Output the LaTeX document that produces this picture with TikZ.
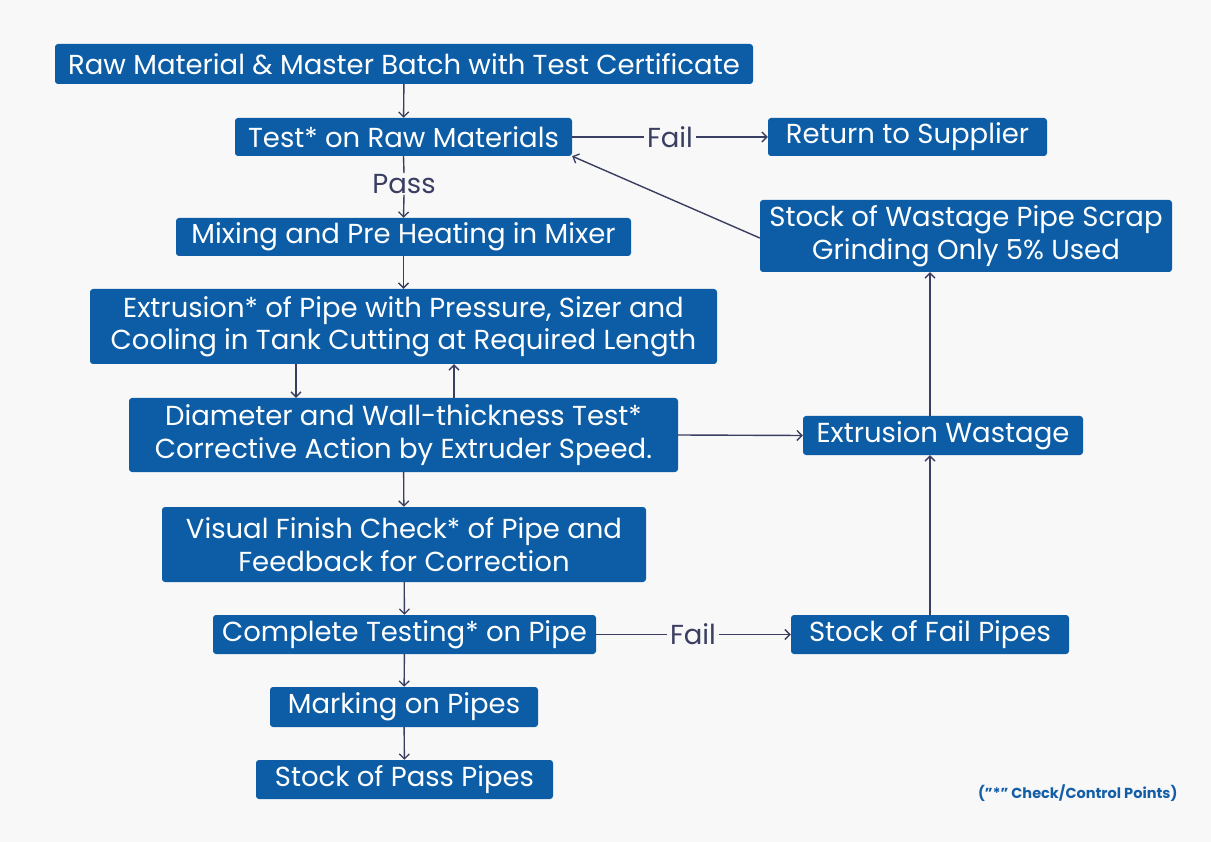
\documentclass[tikz,border=0pt]{standalone}
\usepackage{fontspec}
\setmainfont{Poppins}
\usetikzlibrary{arrows.meta,calc}
\definecolor{boxblue}{RGB}{12,93,166}
\definecolor{lineclr}{RGB}{58,62,96}
\definecolor{bgclr}{RGB}{248,248,248}
\definecolor{legclr}{RGB}{20,94,168}
\begin{document}
\begin{tikzpicture}[x=1pt,y=-1pt,
  box/.style={draw=none,fill=boxblue,rounded corners=3pt,text=white,align=center,
    inner sep=0pt,font=\fontsize{27.5}{32.5}\selectfont},
  lbl/.style={text=lineclr,inner sep=3pt,font=\fontsize{27.5}{30}\selectfont},
  arr/.style={draw=lineclr,line width=1.4pt,-{Straight Barb[length=5pt,width=10pt,line width=1.3pt]}},
  ln/.style={draw=lineclr,line width=1.4pt}]
\fill[bgclr] (0,0) rectangle (1211,842);
\useasboundingbox (0,0) rectangle (1211,842);
\node[box,minimum width=698pt,minimum height=40pt] (raw) at (404,64) {Raw Material \& Master Batch with Test Certificate};
\node[box,minimum width=337pt,minimum height=38pt] (test) at (403.5,137) {Test* on Raw Materials};
\node[box,minimum width=279pt,minimum height=38pt] (ret) at (907.5,137) {Return to Supplier};
\node[box,minimum width=455pt,minimum height=38pt] (mix) at (403.5,237) {Mixing and Pre Heating in Mixer};
\node[box,minimum width=412pt,minimum height=72pt] (sw) at (966,236) {Stock of Wastage Pipe Scrap\\Grinding Only 5\% Used};
\node[box,minimum width=627pt,minimum height=75pt] (ext) at (403.5,326.5) {Extrusion* of Pipe with Pressure, Sizer and\\Cooling in Tank Cutting at Required Length};
\node[box,minimum width=549pt,minimum height=74pt] (dia) at (403.5,435) {Diameter and Wall-thickness Test*\\Corrective Action by Extruder Speed.};
\node[box,minimum width=280pt,minimum height=39pt] (ew) at (943,435.5) {Extrusion Wastage};
\node[box,minimum width=484pt,minimum height=75pt] (vis) at (404,544.5) {Visual Finish Check* of Pipe and\\Feedback for Correction};
\node[box,minimum width=383pt,minimum height=39pt] (comp) at (404.5,634.5) {Complete Testing* on Pipe};
\node[box,minimum width=278pt,minimum height=39pt] (sf) at (930,634.5) {Stock of Fail Pipes};
\node[box,minimum width=268pt,minimum height=40pt] (mark) at (404,707) {Marking on Pipes};
\node[box,minimum width=297pt,minimum height=39pt] (sp) at (404.5,779.5) {Stock of Pass Pipes};
\node[lbl] (fail1) at (670,137) {Fail};
\node[lbl] (fail2) at (693,634.5) {Fail};
\node[lbl,inner sep=1pt] (pass) at (404,184) {Pass};
\node[text=legclr,font=\fontsize{14.5}{16}\selectfont\bfseries,anchor=east] (leg) at (1181,793) {(”*” Check/Control Points)};
\draw[arr] (raw) -- (test);
\draw[ln] (test.east) -- (fail1.west);
\draw[arr] (fail1.east) -- (ret.west);
\draw[ln] (test.south) -- (pass.north);
\draw[arr] (pass.south) -- (mix.north);
\draw[arr] (mix) -- (ext);
\draw[arr] (ext.south -| 296,0) -- (dia.north -| 296,0);
\draw[arr] (dia.north -| 454,0) -- (ext.south -| 454,0);
\draw[arr] (dia.east) -- (ew.west);
\draw[arr] (dia) -- (vis);
\draw[arr] (vis) -- (comp);
\draw[ln] (comp.east) -- (fail2.west);
\draw[arr] (fail2.east) -- (sf.west);
\draw[arr] (sf.north) -- (sf.north |- ew.south);
\draw[arr] (ew.north -| sf.north) -- (sf.north |- sw.south);
\draw[arr] (sw.west |- 0,238) -- (test.south east);
\draw[arr] (comp) -- (mark);
\draw[arr] (mark) -- (sp);
\end{tikzpicture}
\end{document}
